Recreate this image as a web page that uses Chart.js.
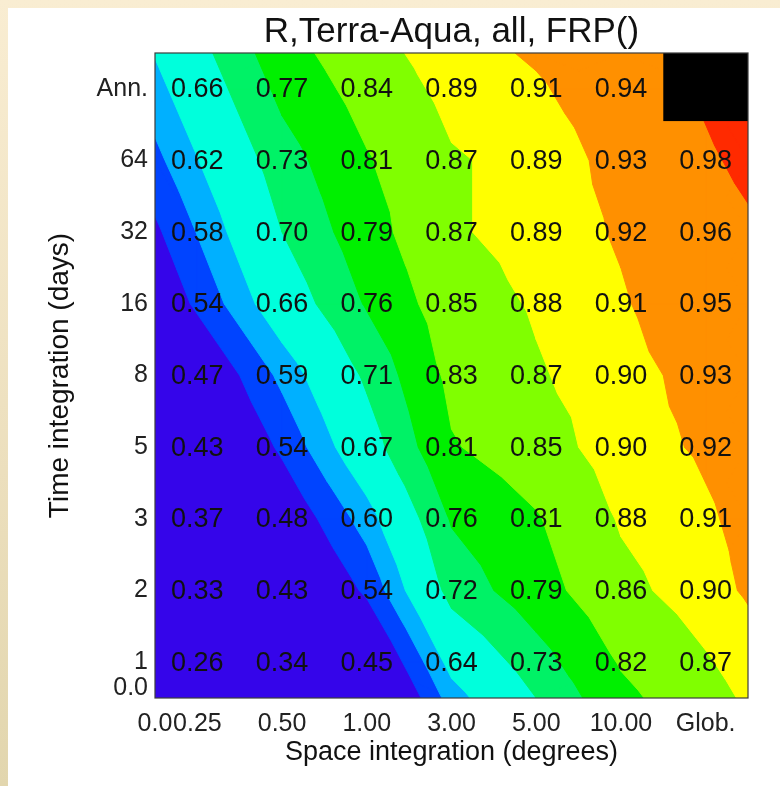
<!DOCTYPE html>
<html><head><meta charset="utf-8">
<script src="https://cdn.jsdelivr.net/npm/chart.js@4.4.1/dist/chart.umd.min.js"></script>
<style>
html,body{margin:0;padding:0;width:780px;height:786px;overflow:hidden;}
body{background:linear-gradient(180deg,#f9edd2 0%,#ecdfbd 60%,#e2d6ae 100%);position:relative;}
#panel{position:absolute;left:8px;top:8px;width:772px;height:778px;background:#fff;}
#c{position:absolute;left:0;top:0;}
</style></head><body><div id="panel"></div><canvas id="c" width="780" height="786"></canvas>
<script>
// Categories
const xLabels = ['0.25','0.50','1.00','3.00','5.00','10.00','Glob.'];
const yLabels = ['1','2','3','5','8','16','32','64','Ann.'];
const xZeroLabel = '0.0';
const yZeroLabel = '0.0';
// Values per time integration row (columns follow xLabels)
const t1   = [0.26,0.34,0.45,0.64,0.73,0.82,0.87];
const t2   = [0.33,0.43,0.54,0.72,0.79,0.86,0.90];
const t3   = [0.37,0.48,0.60,0.76,0.81,0.88,0.91];
const t5   = [0.43,0.54,0.67,0.81,0.85,0.90,0.92];
const t8   = [0.47,0.59,0.71,0.83,0.87,0.90,0.93];
const t16  = [0.54,0.66,0.76,0.85,0.88,0.91,0.95];
const t32  = [0.58,0.70,0.79,0.87,0.89,0.92,0.96];
const t64  = [0.62,0.73,0.81,0.87,0.89,0.93,0.98];
const tAnn = [0.66,0.77,0.84,0.89,0.91,0.94,null];
const grid = [t1,t2,t3,t5,t8,t16,t32,t64,tAnn];
// Contour levels and colours
const levels = [0.53,0.578,0.622,0.70,0.755,0.815,0.875,0.915,0.99];
const bandColors = ['#3505ea','#0044ff','#00b0ff','#00ffdc','#00f266','#00f000','#80ff00','#ffff00','#ff9000','#ff2a00'];
const missingColor = '#000000';

const FONT = '"Liberation Sans", Arial, Helvetica, sans-serif';

function clipPoly(pts, L){
  const out=[];
  for(let i=0;i<pts.length;i++){
    const A=pts[i], B=pts[(i+1)%pts.length];
    const ina=A.v>=L, inb=B.v>=L;
    if(ina) out.push(A);
    if(ina!==inb){
      const t=(L-A.v)/(B.v-A.v);
      out.push({x:A.x+t*(B.x-A.x), y:A.y+t*(B.y-A.y), v:L});
    }
  }
  return out;
}

const contourPlugin = {
  id:'contour',
  beforeDatasetsDraw(chart){
    const {ctx, chartArea:ca, scales:{x,y}} = chart;
    const nx=xLabels.length, ny=yLabels.length;
    // working copy; missing cell filled by vertical extrapolation only for contouring (it is painted black)
    const g = grid.map(r=>r.slice());
    for(let j=0;j<ny;j++) for(let i=0;i<nx;i++) if(g[j][i]==null){
      g[j][i] = 2*g[j-1][i]-g[j-2][i];
    }
    const ex = g.map(r=>[r[0]-(r[1]-r[0])/2, ...r, r[nx-1]+(r[nx-1]-r[nx-2])/2]);
    const first = ex[0].map((v,k)=>v-(ex[1][k]-v)/2);
    const last = ex[ny-1].map((v,k)=>v+(v-ex[ny-2][k])/2);
    const E=[first,...ex,last];
    const xs=[-0.5]; for(let i=0;i<nx;i++) xs.push(i); xs.push(nx-0.5);
    const ys=[-0.5]; for(let j=0;j<ny;j++) ys.push(j); ys.push(ny-0.5);
    const px=xs.map(v=>x.getPixelForValue(v)), py=ys.map(v=>y.getPixelForValue(v));
    const tris=[];
    for(let j=0;j<ys.length-1;j++) for(let i=0;i<xs.length-1;i++){
      const p00={x:px[i],y:py[j],v:E[j][i]}, p10={x:px[i+1],y:py[j],v:E[j][i+1]};
      const p11={x:px[i+1],y:py[j+1],v:E[j+1][i+1]}, p01={x:px[i],y:py[j+1],v:E[j+1][i]};
      const c={x:(p00.x+p10.x)/2,y:(p00.y+p01.y)/2,v:(p00.v+p10.v+p11.v+p01.v)/4};
      tris.push([p00,p10,c],[p10,p11,c],[p11,p01,c],[p01,p00,c]);
    }
    ctx.save();
    ctx.beginPath(); ctx.rect(ca.left,ca.top,ca.width,ca.height); ctx.clip();
    ctx.fillStyle=bandColors[0]; ctx.fillRect(ca.left,ca.top,ca.width,ca.height);
    ctx.lineWidth=1; ctx.lineJoin='round';
    for(let k=0;k<levels.length;k++){
      ctx.fillStyle=bandColors[k+1]; ctx.strokeStyle=bandColors[k+1];
      ctx.beginPath();
      for(const t of tris){
        const p=clipPoly(t,levels[k]);
        if(p.length<3) continue;
        ctx.moveTo(p[0].x,p[0].y);
        for(let m=1;m<p.length;m++) ctx.lineTo(p[m].x,p[m].y);
        ctx.closePath();
      }
      ctx.fill(); ctx.stroke();
    }
    // missing cells
    ctx.fillStyle=missingColor;
    for(let j=0;j<ny;j++) for(let i=0;i<nx;i++) if(grid[j][i]==null){
      const l=x.getPixelForValue(i-0.5), r=x.getPixelForValue(i+0.5);
      const t=y.getPixelForValue(j+0.5), b=y.getPixelForValue(j-0.45);
      ctx.fillRect(l,t,r-l,b-t);
    }
    ctx.restore();
  },
  afterDatasetsDraw(chart){
    const {ctx, chartArea:ca} = chart;
    const meta=chart.getDatasetMeta(0);
    const ds=chart.data.datasets[0].data;
    ctx.save();
    ctx.font='27px '+FONT; ctx.fillStyle='#111'; ctx.textAlign='center'; ctx.textBaseline='middle';
    meta.data.forEach((pt,k)=>{ ctx.fillText(ds[k].v.toFixed(2), pt.x, pt.y+1); });
    ctx.strokeStyle='#3c3c3c'; ctx.lineWidth=1.2;
    ctx.strokeRect(ca.left,ca.top,ca.width,ca.height);
    ctx.restore();
  },
  afterDraw(chart){
    const {ctx, chartArea:ca}=chart;
    ctx.save();
    ctx.font='35px '+FONT; ctx.fillStyle='#111'; ctx.textAlign='center'; ctx.textBaseline='alphabetic';
    ctx.fillText('R,Terra-Aqua, all, FRP()', (ca.left+ca.right)/2, 42);
    ctx.restore();
  }
};

const points=[];
grid.forEach((row,j)=>row.forEach((v,i)=>{ if(v!=null) points.push({x:i,y:j,v:v}); }));

new Chart(document.getElementById('c'),{
  type:'scatter',
  data:{datasets:[{data:points,pointRadius:0,pointHoverRadius:0,showLine:false}]},
  plugins:[contourPlugin],
  options:{
    responsive:false, animation:false, devicePixelRatio:1,
    layout:{padding:{top:53,right:32,left:0,bottom:0}},
    plugins:{legend:{display:false},tooltip:{enabled:false},title:{display:false}},
    scales:{
      x:{type:'linear',min:-0.5,max:xLabels.length-0.5,
        grid:{display:false,drawTicks:false},border:{display:false},
        afterBuildTicks:(s)=>{ s.ticks=[{value:-0.5}].concat(xLabels.map((_,i)=>({value:i}))); },
        afterFit:(s)=>{ s.height=88; },
        ticks:{autoSkip:false,maxRotation:0,minRotation:0,padding:11,color:'#222',font:{family:FONT,size:25},
          callback:(v)=> v<0 ? xZeroLabel : xLabels[v]},
        title:{display:true,text:'Space integration (degrees)',color:'#111',font:{family:FONT,size:27},padding:{top:0,bottom:17}}
      },
      y:{type:'linear',min:-0.5,max:yLabels.length-0.5,
        grid:{display:false,drawTicks:false},border:{display:false},
        afterBuildTicks:(s)=>{ s.ticks=[{value:-0.36}].concat(yLabels.map((_,j)=>({value:j}))); },
        afterFit:(s)=>{ s.width=155; },
        ticks:{autoSkip:false,padding:7,color:'#222',font:{family:FONT,size:25},
          callback:(v)=> v<0 ? yZeroLabel : yLabels[v]},
        title:{display:true,text:'Time integration (days)',color:'#111',font:{family:FONT,size:28},padding:{top:43,bottom:0}}
      }
    }
  }
});
</script></body></html>
